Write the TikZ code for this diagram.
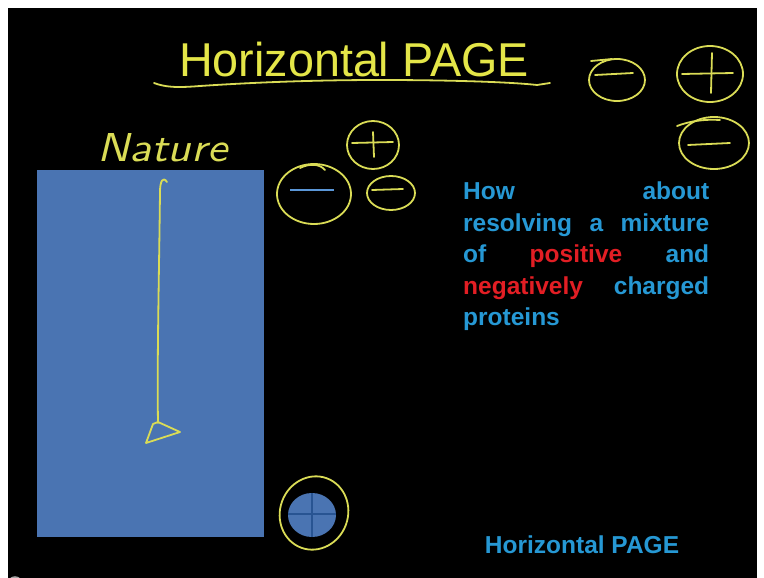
\documentclass[tikz,border=0pt]{standalone}
\usepackage{fontspec}
\setmainfont{Liberation Sans}
\definecolor{titleyel}{RGB}{228,230,72}
\definecolor{penyel}{RGB}{218,220,86}
\definecolor{slabblue}{RGB}{74,116,178}
\definecolor{plusblue}{RGB}{40,84,146}
\definecolor{minusblue}{RGB}{90,150,215}
\definecolor{txtblue}{RGB}{38,152,212}
\definecolor{txtred}{RGB}{226,30,36}
\begin{document}
\begin{tikzpicture}[x=1pt,y=-1pt,
  pen/.style={draw=penyel, line width=1.8pt, line cap=round, line join=round},
  bluetxt/.style={text=txtblue, inner sep=0pt, anchor=base west, font=\fontsize{24.5}{28}\selectfont\bfseries},
  signline/.style={draw=penyel, line width=1.8pt, line cap=round}]
\useasboundingbox (0,0) rectangle (764,578);
\fill[white] (0,0) rectangle (764,578);
\fill[black] (8,8) rectangle (757,578);
\begin{scope}
\clip (0,0) rectangle (764,578);
\draw[gray!70, line width=1.5pt] (15,584) circle (7);
\end{scope}

% title and underline
\node[anchor=base west, inner sep=0pt, text=titleyel] (title) at (179,77)
  {\fontsize{47.5}{55}\selectfont\scalebox{0.983}[1]{Horizontal PAGE}};
\draw[pen] (154,83) .. controls (165,87) and (175,88) .. (200,86)
  .. controls (260,82) and (320,80) .. (380,80)
  .. controls (450,80) and (510,82) .. (537,85) -- (550,83);

% gel slab
\fill[slabblue] (37,170) rectangle (264,537);
\node[anchor=base west, inner sep=0pt, text=penyel] (nature) at (97,161)
  {\resizebox{130pt}{28pt}{\sffamily\slshape Nature}};
\draw[pen] (167,182) .. controls (163,176) and (160,181) .. (160,192)
  .. controls (159,280) and (157,360) .. (158,423);
\draw[pen] (158,422) -- (153,424) -- (146,443) -- (180,432) -- cycle;

% charges near slab
\draw[pen] (373,145) ellipse [x radius=26, y radius=24];
\draw[signline] (352,143) -- (393,142);
\draw[signline] (373,132) -- (374,157);
\draw[pen] (314,194) ellipse [x radius=37, y radius=30];
\draw[pen] (300,168) .. controls (310,163) and (320,164) .. (325,170);
\draw[draw=minusblue, line width=2pt] (290,190) -- (334,190);
\draw[pen] (391,193) ellipse [x radius=24, y radius=17];
\draw[signline] (372,190) -- (403,189);

% charges top right
\draw[pen] (617,80) ellipse [x radius=28, y radius=21];
\draw[pen] (591,61) -- (612,59);
\draw[signline] (595,75) -- (633,73);
\draw[pen] (710,74) ellipse [x radius=33, y radius=28];
\draw[signline] (682,74) -- (733,73);
\draw[signline] (712,53) -- (711,93);
\draw[pen] (714,143) ellipse [x radius=35, y radius=26];
\draw[pen] (677,126) .. controls (690,121) and (705,119) .. (720,120);
\draw[signline] (688,145) -- (730,143);

% bottom positive charge
\draw[pen] (314,513) ellipse [x radius=34, y radius=37, rotate=-20];
\fill[slabblue] (312,515) ellipse [x radius=24, y radius=22];
\draw[plusblue, line width=1.2pt] (288,514) -- (336,514);
\draw[plusblue, line width=1.2pt] (312,493) -- (312,537);

% question text
\node[bluetxt] (l1) at (463,199) {\hbox to 246pt{How\hfill about}};
\node[bluetxt] (l2) at (463,231) {\hbox to 246pt{resolving\hfill a\hfill mixture}};
\node[bluetxt] (l3) at (463,262) {\hbox to 246pt{of\hfill\textcolor{txtred}{positive}\hfill and}};
\node[bluetxt] (l4) at (463,294) {\hbox to 246pt{\textcolor{txtred}{negatively}\hfill charged}};
\node[bluetxt] (l5) at (463,325) {proteins};

\node[bluetxt, anchor=base] (foot) at (582,553) {Horizontal PAGE};
\end{tikzpicture}
\end{document}
